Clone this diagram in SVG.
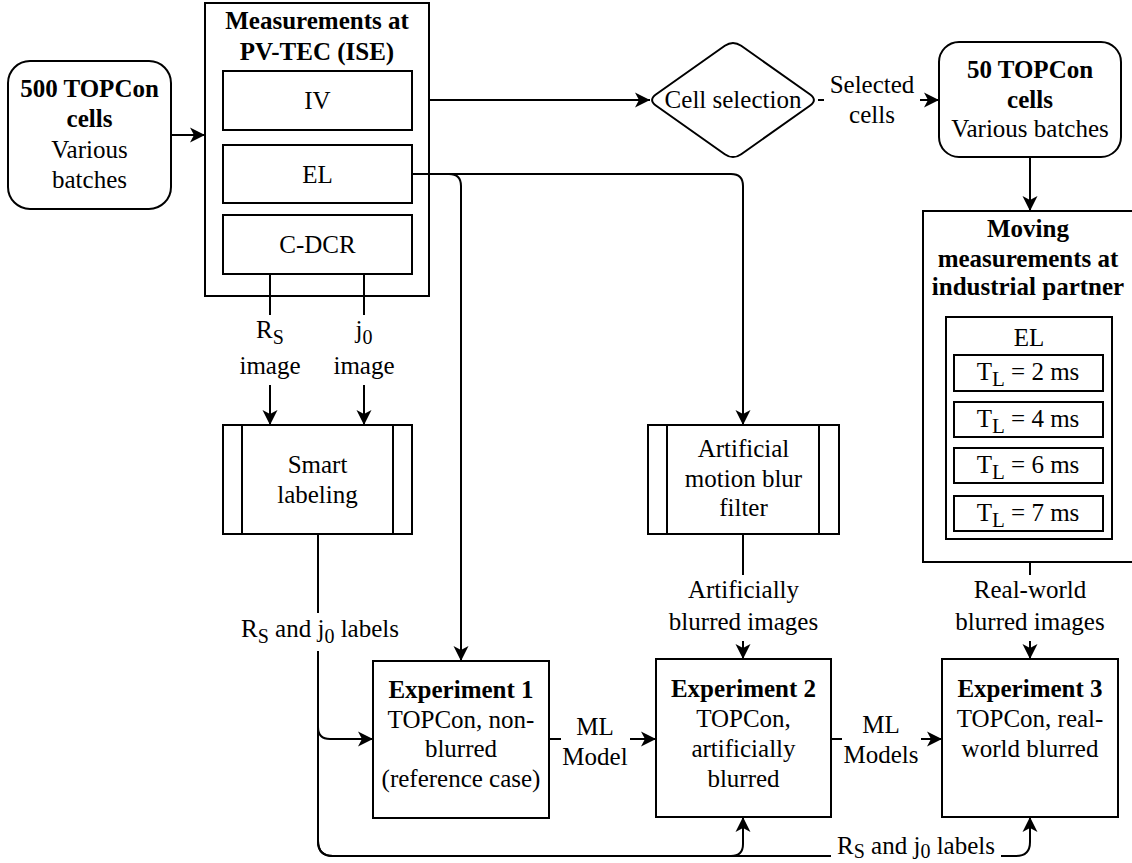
<svg xmlns="http://www.w3.org/2000/svg" width="1132" height="863" viewBox="0 0 1132 863">
<defs>
<marker id="arr" markerUnits="userSpaceOnUse" markerWidth="16" markerHeight="16" refX="15" refY="8" orient="auto">
<path d="M0,0.5 L15,8 L0,15.5 L4,8 Z" fill="#000"/>
</marker>
<style>
text{font-family:"Liberation Serif","Times New Roman",serif;font-size:25px;fill:#000;text-anchor:middle}
.b{font-weight:bold}
.box{fill:#fff;stroke:#000;stroke-width:2}
.edge{fill:none;stroke:#000;stroke-width:2}
.lbg{fill:#fff;stroke:none}
</style>
</defs>
<rect width="1132" height="863" fill="#fff"/>

<g id="n-500cells">
<rect class="box" x="8" y="61" width="163" height="148" rx="22"/>
<text x="89.5" y="97" class="b">500 TOPCon</text>
<text x="89.5" y="127" class="b">cells</text>
<text x="89.5" y="158">Various</text>
<text x="89.5" y="188">batches</text>
</g>

<g id="n-measurements">
<rect class="box" x="205" y="3" width="224" height="293"/>
<text x="317" y="29" class="b">Measurements at</text>
<text x="317" y="60" class="b">PV-TEC (ISE)</text>
<g id="n-iv"><rect class="box" x="223" y="71" width="189" height="59"/><text x="317.5" y="109">IV</text></g>
<g id="n-el"><rect class="box" x="223" y="145" width="189" height="58"/><text x="317.5" y="183">EL</text></g>
<g id="n-cdcr"><rect class="box" x="223" y="215" width="189" height="59"/><text x="317.5" y="253">C-DCR</text></g>
</g>

<g id="n-cellselection">
<path class="box" d="M656.2,94.2 L724.8,45.8 Q733,40 741.2,45.8 L809.8,94.2 Q818,100 809.8,105.8 L741.2,154.2 Q733,160 724.8,154.2 L656.2,105.8 Q648,100 656.2,94.2 Z"/>
<text x="733" y="108">Cell selection</text>
</g>

<g id="n-50cells">
<rect class="box" x="939" y="42" width="182" height="115" rx="20"/>
<text x="1030" y="78" class="b">50 TOPCon</text>
<text x="1030" y="108" class="b">cells</text>
<text x="1030" y="137">Various batches</text>
</g>

<g id="n-moving">
<rect class="box" x="923" y="211" width="214" height="351"/>
<text x="1028" y="237" class="b">Moving</text>
<text x="1028" y="267" class="b">measurements at</text>
<text x="1028" y="295" class="b">industrial partner</text>
<rect class="box" x="946" y="317" width="166" height="222"/>
<text x="1029" y="346">EL</text>
<rect class="box" x="954" y="355" width="149" height="36"/>
<text x="1028" y="380">T<tspan font-size="21" dy="6">L</tspan><tspan dy="-6"> = 2 ms</tspan></text>
<rect class="box" x="954" y="402" width="149" height="35"/>
<text x="1028" y="427">T<tspan font-size="21" dy="6">L</tspan><tspan dy="-6"> = 4 ms</tspan></text>
<rect class="box" x="954" y="448" width="149" height="35"/>
<text x="1028" y="473">T<tspan font-size="21" dy="6">L</tspan><tspan dy="-6"> = 6 ms</tspan></text>
<rect class="box" x="954" y="496" width="149" height="35"/>
<text x="1028" y="521">T<tspan font-size="21" dy="6">L</tspan><tspan dy="-6"> = 7 ms</tspan></text>
</g>

<g id="n-smartlabeling">
<rect class="box" x="223" y="425" width="189" height="109"/>
<line class="edge" x1="242" y1="425" x2="242" y2="534"/>
<line class="edge" x1="393" y1="425" x2="393" y2="534"/>
<text x="317.5" y="473">Smart</text>
<text x="317.5" y="503">labeling</text>
</g>

<g id="n-blurfilter">
<rect class="box" x="648" y="425" width="191" height="109"/>
<line class="edge" x1="667" y1="425" x2="667" y2="534"/>
<line class="edge" x1="819" y1="425" x2="819" y2="534"/>
<text x="743.5" y="457">Artificial</text>
<text x="743.5" y="487">motion blur</text>
<text x="743.5" y="516">filter</text>
</g>

<g id="n-exp1">
<rect class="box" x="373" y="661" width="176" height="157"/>
<text x="461" y="698" class="b">Experiment 1</text>
<text x="461" y="728">TOPCon, non-</text>
<text x="461" y="757">blurred</text>
<text x="461" y="787">(reference case)</text>
</g>

<g id="n-exp2">
<rect class="box" x="656" y="659" width="175" height="158"/>
<text x="743.5" y="697" class="b">Experiment 2</text>
<text x="743.5" y="727">TOPCon,</text>
<text x="743.5" y="757">artificially</text>
<text x="743.5" y="787">blurred</text>
</g>

<g id="n-exp3">
<rect class="box" x="942" y="659" width="176" height="158"/>
<text x="1030" y="697" class="b">Experiment 3</text>
<text x="1030" y="727">TOPCon, real-</text>
<text x="1030" y="757">world blurred</text>
</g>

<g id="connectors">
<path class="edge" d="M171,135 L205,135" marker-end="url(#arr)"/>
<path class="edge" d="M429,100 L650,100" marker-end="url(#arr)"/>
<path class="edge" d="M818,100 L939,100" marker-end="url(#arr)"/>
<path class="edge" d="M1030,157 L1030,211" marker-end="url(#arr)"/>
<path class="edge" d="M412,174 L731,174 Q743,174 743,186 L743,425" marker-end="url(#arr)"/>
<path class="edge" d="M412,174 L449,174 Q461,174 461,186 L461,661" marker-end="url(#arr)"/>
<path class="edge" d="M270,274 L270,425" marker-end="url(#arr)"/>
<path class="edge" d="M364,274 L364,425" marker-end="url(#arr)"/>
<path class="edge" d="M318,534 L318,727 Q318,739 330,739 L373,739" marker-end="url(#arr)"/>
<path class="edge" d="M318,534 L318,841 Q318,856 333,856 L731,856 Q743,856 743,844 L743,817" marker-end="url(#arr)"/>
<path class="edge" d="M318,534 L318,841 Q318,856 333,856 L1016,856 Q1030,856 1030,842 L1030,817" marker-end="url(#arr)"/>
<path class="edge" d="M743,534 L743,659" marker-end="url(#arr)"/>
<path class="edge" d="M1030,562 L1030,659" marker-end="url(#arr)"/>
<path class="edge" d="M549,739 L656,739" marker-end="url(#arr)"/>
<path class="edge" d="M831,739 L942,739" marker-end="url(#arr)"/>

<g id="labels">
<rect class="lbg" x="824" y="70" width="96" height="60"/>
<text x="872" y="93">Selected</text>
<text x="872" y="123">cells</text>

<rect class="lbg" x="244" y="315" width="52" height="70"/>
<text x="270" y="338">R<tspan font-size="20" dy="6">S</tspan></text>
<text x="270" y="374">image</text>

<rect class="lbg" x="336" y="315" width="56" height="70"/>
<text x="364" y="338">j<tspan font-size="20" dy="6">0</tspan></text>
<text x="364" y="374">image</text>

<rect class="lbg" x="234" y="613" width="172" height="38"/>
<text x="320" y="637">R<tspan font-size="20" dy="6">S</tspan><tspan dy="-6"> and j</tspan><tspan font-size="20" dy="6">0</tspan><tspan dy="-6"> labels</tspan></text>

<rect class="lbg" x="831" y="840" width="170" height="23"/>
<text x="916" y="854">R<tspan font-size="20" dy="4">S</tspan><tspan dy="-4"> and j</tspan><tspan font-size="20" dy="4">0</tspan><tspan dy="-4"> labels</tspan></text>

<rect class="lbg" x="665" y="575" width="157" height="66"/>
<text x="743.5" y="598">Artificially</text>
<text x="743.5" y="630">blurred images</text>

<rect class="lbg" x="952" y="575" width="157" height="66"/>
<text x="1030" y="598">Real-world</text>
<text x="1030" y="630">blurred images</text>

<rect class="lbg" x="561" y="712" width="69" height="60"/>
<text x="595" y="735">ML</text>
<text x="595" y="765">Model</text>

<rect class="lbg" x="842" y="712" width="79" height="60"/>
<text x="881" y="733">ML</text>
<text x="881" y="763">Models</text>
</g>
</g>
</svg>
